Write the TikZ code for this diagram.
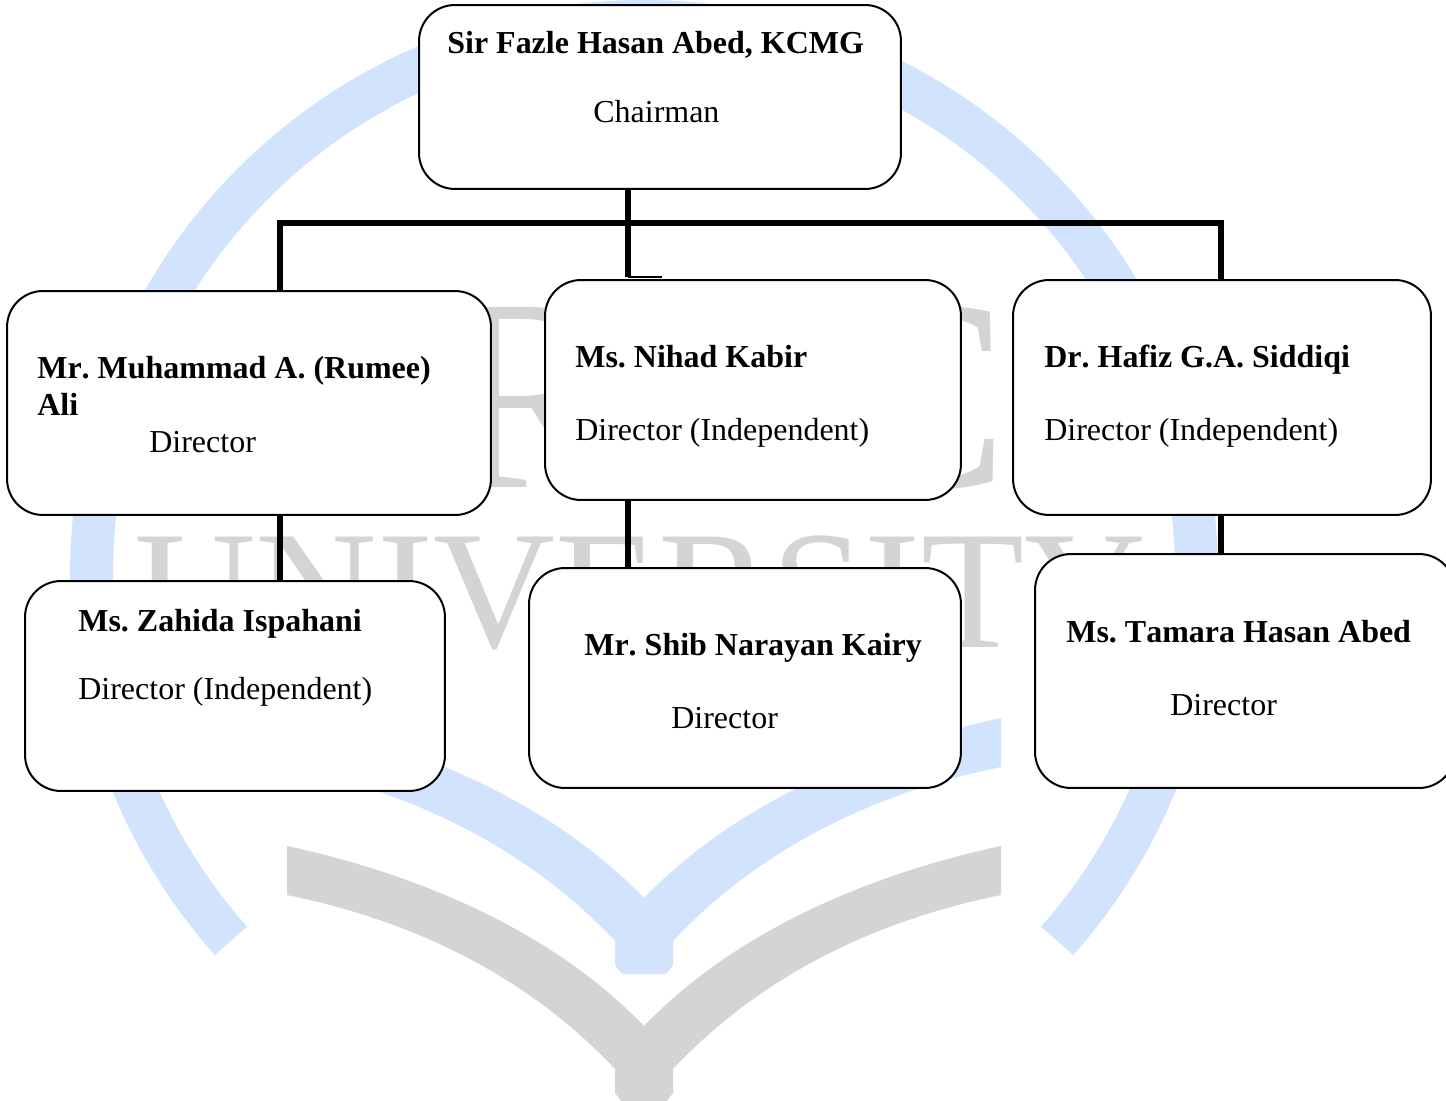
\documentclass[tikz,border=0pt]{standalone}
\usepackage{fontspec}
\setmainfont[Kerning=Off]{Liberation Serif}
\definecolor{logoblue}{HTML}{D2E4FD}
\definecolor{logogray}{HTML}{D4D4D3}
\newcommand{\bookband}[1]{%
    (287,718+#1) .. controls (390,740+#1) and (540,790+#1) .. (644,898+#1)
    .. controls (748,790+#1) and (898,740+#1) .. (1001,718+#1) -- (1001,767+#1)
    .. controls (888,790+#1) and (768,840+#1) .. (673,941+#1) -- (673,965+#1)
    -- (666,974+#1) -- (622,974+#1) -- (615,965+#1) -- (615,941+#1)
    .. controls (520,840+#1) and (400,790+#1) .. (287,767+#1) -- cycle}
\tikzset{
    orgbox/.style={draw, fill=white, line width=0.04cm, rounded corners=0.72cm},
    bar/.style={line width=0.11cm},
    nametext/.style={anchor=base west, inner sep=0pt, font=\fontsize{18.2}{20}\selectfont\bfseries\frenchspacing},
    roletext/.style={anchor=base west, inner sep=0pt, font=\fontsize{18.2}{20}\selectfont\frenchspacing}
}
\begin{document}
\begin{tikzpicture}[x=0.02cm, y=-0.02cm]
    \useasboundingbox (0,0) rectangle (1446,1101);
    % watermark
    \begin{scope}
        \clip (0,0) rectangle (1446,1101);
        \draw[logoblue, line width=0.86cm] (644,574) ++(138.4:552.5) arc[start angle=138.4, end angle=401.6, radius=552.5];
        \fill[logoblue] \bookband{0};
        \fill[logogray] \bookband{128};
        \node[logogray, inner sep=0pt, anchor=base, font=\fontsize{156.6}{160}\selectfont] (brac) at (634,487) {BRAC};
        \node[logogray, inner sep=0pt, anchor=base, font=\fontsize{96}{100}\selectfont] (univ) at (640,647) {UNIVERSITY};
    \end{scope}
    % connector positions
    \coordinate (busL) at (280,223);
    \coordinate (busC) at (628,223);
    \coordinate (busR) at (1221,223);
    \coordinate (tick) at (628,277);
    \coordinate (tickend) at (662,277);
    % boxes
    \node[orgbox, minimum width=9.64cm, minimum height=3.68cm] (chair) at (660,97) {};
    \node[orgbox, minimum width=9.68cm, minimum height=4.48cm] (muhammad) at (249,403) {};
    \node[orgbox, minimum width=8.32cm, minimum height=4.4cm] (nihad) at (753,390) {};
    \node[orgbox, minimum width=8.36cm, minimum height=4.7cm] (hafiz) at (1222,397.5) {};
    \node[orgbox, minimum width=8.4cm, minimum height=4.2cm] (zahida) at (235,686) {};
    \node[orgbox, minimum width=8.64cm, minimum height=4.4cm] (shib) at (745,678) {};
    \node[orgbox, minimum width=8.4cm, minimum height=4.68cm] (tamara) at (1245,671) {};
    % connectors
    \draw[bar] (busC |- chair.south) -- (tick);
    \draw[bar] (busL |- muhammad.north) -- (busL) -- (busR) -- (busR |- hafiz.north);
    \draw[line width=0.04cm] (tick) -- (tickend);
    \draw[bar] (busL |- muhammad.south) -- (busL |- zahida.north);
    \draw[bar] (busC |- nihad.south) -- (busC |- shib.north);
    \draw[bar] (busR |- hafiz.south) -- (busR |- tamara.north);
    % texts
    \node[nametext] (chairname) at (447,54) {Sir Fazle Hasan Abed, KCMG};
    \node[roletext] (chairrole) at (593,123) {Chairman};
    \node[nametext] (muhammadname) at (37,378) {Mr. Muhammad A. (Rumee)};
    \node[nametext] (muhammadname2) at (37,415) {Ali};
    \node[roletext] (muhammadrole) at (149,452) {Director};
    \node[nametext] (nihadname) at (575,367) {Ms. Nihad Kabir};
    \node[roletext] (nihadrole) at (575,440) {Director (Independent)};
    \node[nametext] (hafizname) at (1044,367) {Dr. Hafiz G.A. Siddiqi};
    \node[roletext] (hafizrole) at (1044,440) {Director (Independent)};
    \node[nametext] (zahidaname) at (78,631) {Ms. Zahida Ispahani};
    \node[roletext] (zahidarole) at (78,699) {Director (Independent)};
    \node[nametext] (shibname) at (584,655) {Mr. Shib Narayan Kairy};
    \node[roletext] (shibrole) at (671,728) {Director};
    \node[nametext] (tamaraname) at (1066,642) {Ms. Tamara Hasan Abed};
    \node[roletext] (tamararole) at (1170,715) {Director};
\end{tikzpicture}
\end{document}
